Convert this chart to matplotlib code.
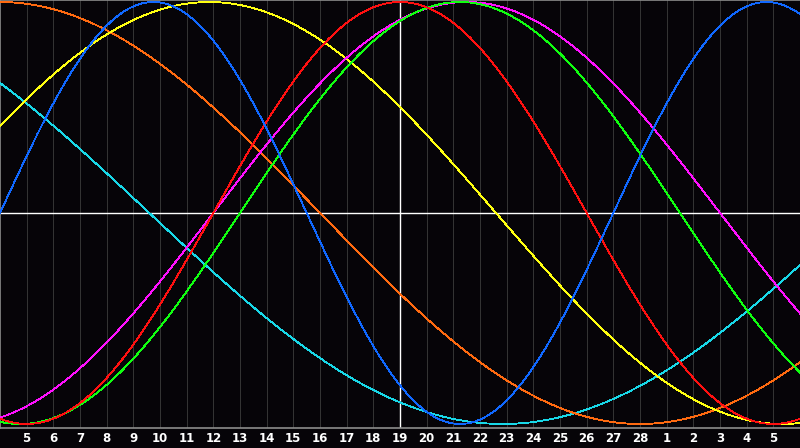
#!/usr/bin/env python3

import numpy as np
import matplotlib
matplotlib.use("Agg")
import matplotlib.pyplot as plt

# day labels along the bottom (one per grid line)
day_labels = [str(d) for d in range(5, 29)] + [str(d) for d in range(1, 6)]
n_days = 30          # days shown across the chart
today = 15           # index of the marked day (19)

# cycles: length in days, and how far into each cycle the left edge is
cycle_names = ["spiritual", "awareness", "aesthetic", "intuitive",
               "intellectual", "emotional", "physical"]
cycle_len = [53, 48, 43, 38, 33, 28, 23]
cycle_phase = [20.9, 12.0, 2.9, 30.0, 24.0, 20.0, 0.0]
cycle_color = ["#18d8e8", "#ff6a10", "#ffff10", "#ff10ff",
               "#10ff10", "#ff1010", "#1068ff"]

bg = "#060408"
grid_col = "#353535"

fig = plt.figure(figsize=(8, 4.48), dpi=100)
fig.patch.set_facecolor(bg)
ax = fig.add_axes([0, 20 / 448, 1, 428 / 448])
ax.set_facecolor(bg)

t = np.linspace(0, n_days, 1200)
for name, p, ph, c in zip(cycle_names, cycle_len, cycle_phase, cycle_color):
    ax.plot(t, np.sin(2 * np.pi * (t + ph) / p), color=c, lw=0.6,
            antialiased=False, label=name, zorder=3)

for k in range(1, n_days):
    ax.axvline(k, color=grid_col, lw=0.7, zorder=1)
ax.axvline(today, color="white", lw=1.0, zorder=2)
ax.axhline(0, color="white", lw=1.0, zorder=2)

ax.set_xlim(0, n_days)
ax.set_ylim(-1.019, 1.0095)
ax.set_yticks([])
ax.set_xticks(range(1, n_days))
ax.set_xticklabels(day_labels, color="white", fontsize=8.5, fontweight="bold",
                   family="DejaVu Sans")
ax.tick_params(axis="x", length=0, pad=3)

for side in ["top", "bottom", "left"]:
    ax.spines[side].set_color("#8c8c8c")
    ax.spines[side].set_linewidth(1.2)
ax.spines["right"].set_visible(False)

fig.savefig("out.png", dpi=100, facecolor=bg)
